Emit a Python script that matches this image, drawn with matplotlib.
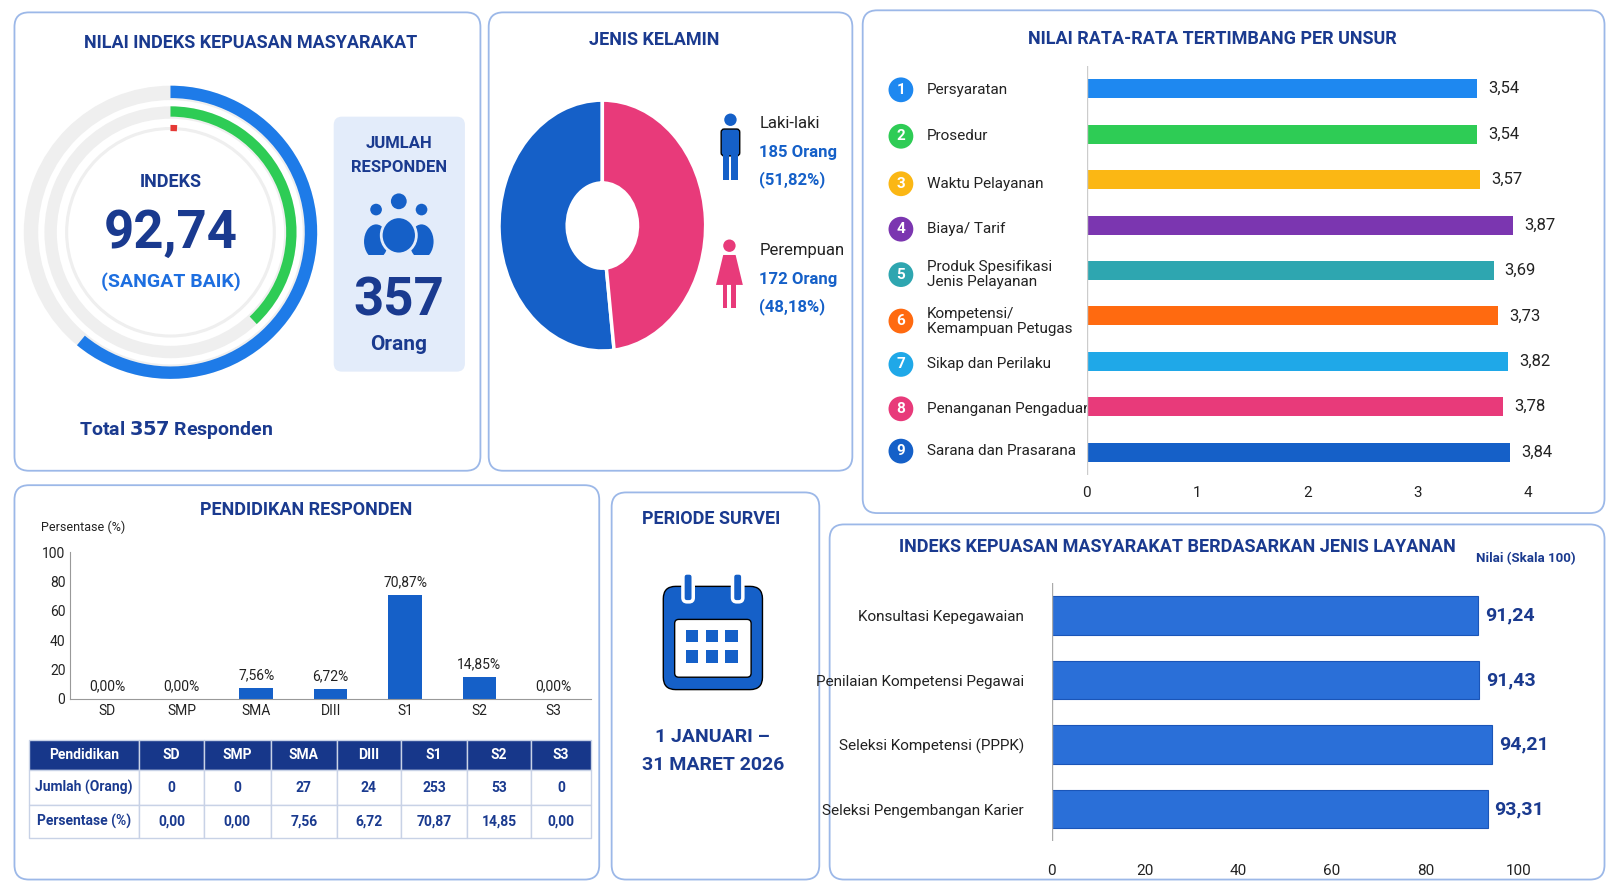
import matplotlib.pyplot as plt
from matplotlib.patches import FancyBboxPatch, Wedge, Circle, Rectangle, Polygon, Ellipse

plt.rcParams['font.family'] = ['Roboto', 'DejaVu Sans']

# ---- data ----
indeks = 92.74
responden = 357
gauge_fracs = [0.61, 0.38, 0.01]          # blue / green / red arcs, share of the circle
gender_labels = ["Laki-laki", "Perempuan"]
gender_counts = [185, 172]
gender_pct = [51.82, 48.18]

unsur_labels = ["Persyaratan", "Prosedur", "Waktu Pelayanan", "Biaya/ Tarif",
                "Produk Spesifikasi\nJenis Pelayanan", "Kompetensi/\nKemampuan Petugas",
                "Sikap dan Perilaku", "Penanganan Pengaduan", "Sarana dan Prasarana"]
unsur_values = [3.54, 3.54, 3.57, 3.87, 3.69, 3.73, 3.82, 3.78, 3.84]
unsur_colors = ["#1e88f0", "#2ecc55", "#fbb714", "#7b36b0", "#2ea6b0",
                "#ff6a10", "#1fa8e8", "#e83a7a", "#1560c8"]

pend_labels = ["SD", "SMP", "SMA", "DIII", "S1", "S2", "S3"]
pend_counts = [0, 0, 27, 24, 253, 53, 0]
pend_pct = [0.00, 0.00, 7.56, 6.72, 70.87, 14.85, 0.00]

layanan_labels = ["Konsultasi Kepegawaian", "Penilaian Kompetensi Pegawai",
                  "Seleksi Kompetensi (PPPK)", "Seleksi Pengembangan Karier"]
layanan_values = [91.24, 91.43, 94.21, 93.31]

NAVY = "#1a3a8f"
BLUE = "#1560c8"
W, H = 1568, 866


def fmt(v, d=2):
    return f"{v:.{d}f}".replace(".", ",")


def add_ax(x0, y0, x1, y1):
    return fig.add_axes([x0 / W, 1 - y1 / H, (x1 - x0) / W, (y1 - y0) / H])


fig = plt.figure(figsize=(16.2, 8.94), dpi=100)
bg = fig.add_axes([0, 0, 1, 1])
bg.set_xlim(0, W)
bg.set_ylim(H, 0)
bg.axis("off")

for x0, y0, x1, y1 in [(14, 12, 465, 456), (473, 12, 825, 456), (835, 10, 1553, 497),
                       (14, 470, 580, 852), (592, 477, 793, 852), (803, 508, 1553, 852)]:
    bg.add_patch(FancyBboxPatch((x0, y0), x1 - x0, y1 - y0, boxstyle="round,pad=0,rounding_size=14",
                                fc="white", ec="#9cb8e8", lw=1.3))


def t(x, y, s, size=12, color=NAVY, weight="normal", ha="center", va="center", **kw):
    bg.text(x, y, s, fontsize=size, color=color, fontweight=weight, ha=ha, va=va, **kw)


# ---- panel 1: gauge ----
t(243, 42, "NILAI INDEKS KEPUASAN MASYARAKAT", 13, weight="bold")
cx, cy = 165, 225
for r, w in [(142, 14), (122, 12), (102, 3)]:
    bg.add_patch(Wedge((cx, cy), r, 0, 360, width=w, fc="#efefef", ec="none"))
bg.add_patch(Wedge((cx, cy), 142, -90, -90 + 360 * gauge_fracs[0], width=12, fc="#1e7be8", ec="none"))
bg.add_patch(Wedge((cx, cy), 122, -90, -90 + 360 * gauge_fracs[1], width=10, fc="#2ecc55", ec="none"))
bg.add_patch(Wedge((cx, cy), 104, -90, -90 + 360 * gauge_fracs[2], width=6, fc="#e53935", ec="none"))
t(cx, 176, "INDEKS", 13, weight="bold")
t(cx, 226, fmt(indeks), 38, weight="bold")
t(cx, 273, "(SANGAT BAIK)", 14, color="#1e6fe0", weight="bold")
t(170, 417, f"Total $\\bf{{{responden}}}$ Responden", 14, weight="bold")

bg.add_patch(FancyBboxPatch((323, 113), 127, 247, boxstyle="round,pad=0,rounding_size=8",
                            fc="#e3ecfa", ec="none"))
t(386, 139, "JUMLAH", 12, weight="bold")
t(386, 162, "RESPONDEN", 12, weight="bold")
for hx, hy, r, bw in [(364, 203, 7, 13), (408, 203, 7, 13), (386, 195, 9, 17)]:
    bg.add_patch(Ellipse((hx, hy + r + 24), 2 * bw, 36, fc=BLUE, ec="#e3ecfa", lw=2))
    bg.add_patch(Circle((hx, hy), r, fc=BLUE, ec="#e3ecfa", lw=2))
bg.add_patch(Rectangle((345, 247), 85, 20, fc="#e3ecfa", ec="none"))
t(386, 292, str(responden), 38, weight="bold")
t(386, 334, "Orang", 15, weight="bold")

# ---- panel 2: gender donut ----
t(633, 39, "JENIS KELAMIN", 13, weight="bold")
axp = add_ax(483, 97, 683, 340)
axp.pie(gender_pct, colors=[BLUE, "#e83a7a"], startangle=90, counterclock=True,
        wedgeprops=dict(width=0.66, edgecolor="white", linewidth=2.5))
axp.set_aspect("auto")
axp.set_xlim(-1, 1)
axp.set_ylim(-1, 1)
t(515, 218, fmt(gender_pct[0]) + "%", 13, color="white", weight="bold")
t(649, 218, fmt(gender_pct[1]) + "%", 13, color="white", weight="bold")
# male icon
bg.add_patch(Circle((707, 116), 6, fc=BLUE))
bg.add_patch(FancyBboxPatch((698, 125), 18, 26, boxstyle="round,pad=0,rounding_size=3", fc=BLUE))
bg.add_patch(Rectangle((700, 148), 6, 26, fc=BLUE))
bg.add_patch(Rectangle((708, 148), 6, 26, fc=BLUE))
# female icon
bg.add_patch(Circle((706, 238), 6, fc="#e83a7a"))
bg.add_patch(Polygon([(700, 247), (712, 247), (719, 276), (693, 276)], fc="#e83a7a"))
bg.add_patch(Rectangle((700, 274), 4, 24, fc="#e83a7a"))
bg.add_patch(Rectangle((708, 274), 4, 24, fc="#e83a7a"))
for y, lab, n, p in [(120, gender_labels[0], gender_counts[0], gender_pct[0]),
                     (243, gender_labels[1], gender_counts[1], gender_pct[1])]:
    t(735, y, lab, 12, color="#222222", ha="left")
    t(735, y + 28, f"{n} Orang", 12, color=BLUE, weight="bold", ha="left")
    t(735, y + 54, f"({fmt(p)}%)", 12, color=BLUE, weight="bold", ha="left")

# ---- panel 3: unsur ----
t(1173, 38, "NILAI RATA-RATA TERTIMBANG PER UNSUR", 13, weight="bold")
axu = add_ax(1052, 64, 1500, 460)
ys = list(range(len(unsur_values)))
axu.barh(ys, unsur_values, height=0.42, color=unsur_colors)
axu.set_ylim(len(ys) - 0.5, -0.5)
axu.set_xlim(0, 4.2)
axu.set_xticks([0, 1, 2, 3, 4])
axu.tick_params(axis="x", length=0, labelsize=11, labelcolor="#222222", pad=8)
axu.set_yticks([])
for s in axu.spines.values():
    s.set_visible(False)
axu.axvline(0, color="#cccccc", lw=1)
for i, v in enumerate(unsur_values):
    axu.text(v + 0.1, i, fmt(v), va="center", fontsize=12, color="#222222")
row_y = [87, 132, 178, 222, 266, 311, 353, 396, 437]
for i, y in enumerate(row_y):
    bg.add_patch(Circle((872, y), 12, fc=unsur_colors[i]))
    t(872, y, str(i + 1), 11, color="white", weight="bold")
    t(897, y, unsur_labels[i], 11, color="#222222", ha="left", linespacing=1.1)

# ---- panel 4: pendidikan ----
t(296, 494, "PENDIDIKAN RESPONDEN", 13, weight="bold")
t(40, 511, "Persentase (%)", 9, color="#222222", ha="left")
axb = add_ax(68, 535, 572, 677)
xs = list(range(len(pend_pct)))
axb.bar(xs, pend_pct, width=0.45, color=BLUE)
axb.set_ylim(0, 100)
axb.set_xlim(-0.5, len(xs) - 0.5)
axb.set_xticks(xs, pend_labels)
axb.set_yticks([0, 20, 40, 60, 80, 100])
axb.tick_params(length=0, labelsize=10, labelcolor="#222222")
for s in ["top", "right"]:
    axb.spines[s].set_visible(False)
axb.spines["left"].set_color("#999999")
axb.spines["bottom"].set_color("#999999")
for i, v in enumerate(pend_pct):
    axb.text(i, v + 4, fmt(v) + "%", ha="center", va="bottom", fontsize=10, color="#222222")

col_x = [28, 135, 197, 262, 326, 388, 452, 514, 572]
row_e = [717, 746, 780, 812]
rows = [["Pendidikan"] + pend_labels,
        ["Jumlah (Orang)"] + [str(c) for c in pend_counts],
        ["Persentase (%)"] + [fmt(p) for p in pend_pct]]
for r in range(3):
    for c in range(len(col_x) - 1):
        hdr = r == 0
        bg.add_patch(Rectangle((col_x[c], row_e[r]), col_x[c + 1] - col_x[c], row_e[r + 1] - row_e[r],
                               fc="#17378a" if hdr else "white", ec="#c8d2e6", lw=1))
        t((col_x[c] + col_x[c + 1]) / 2, (row_e[r] + row_e[r + 1]) / 2, rows[r][c], 10,
          color="white" if hdr else NAVY, weight="bold")

# ---- panel 5: periode ----
t(688, 503, "PERIODE SURVEI", 13, weight="bold")
bg.add_patch(FancyBboxPatch((642, 568), 96, 100, boxstyle="round,pad=0,rounding_size=12", fc=BLUE))
bg.add_patch(FancyBboxPatch((653, 600), 74, 56, boxstyle="round,pad=0,rounding_size=4", fc="white"))
for rx in (666, 714):
    bg.add_patch(FancyBboxPatch((rx - 5, 555), 10, 28, boxstyle="round,pad=0,rounding_size=4",
                                fc=BLUE, ec="white", lw=2.5))
for r in range(2):
    for c in range(3):
        bg.add_patch(Rectangle((664 + c * 19, 610 + r * 20), 12, 12, fc=BLUE))
t(690, 714, "1 JANUARI –", 14, weight="bold")
t(690, 741, "31 MARET 2026", 14, weight="bold")

# ---- panel 6: layanan ----
t(1140, 530, "INDEKS KEPUASAN MASYARAKAT BERDASARKAN JENIS LAYANAN", 13, weight="bold")
t(1477, 541, "Nilai (Skala 100)", 9.5, weight="bold")
axl = add_ax(1018, 565, 1470, 815)
yl = list(range(len(layanan_values)))
axl.barh(yl, layanan_values, height=0.6, color="#2a6fd8", edgecolor="#1a55b8", lw=0.8)
axl.set_ylim(len(yl) - 0.5, -0.5)
axl.set_xlim(0, 100)
axl.set_xticks([0, 20, 40, 60, 80, 100])
axl.set_yticks(yl, layanan_labels)
axl.tick_params(length=0, labelsize=11, labelcolor="#222222")
axl.tick_params(axis="y", pad=20)
axl.tick_params(axis="x", pad=16)
for s in axl.spines.values():
    s.set_visible(False)
axl.axvline(0, color="#aaaaaa", lw=1)
for i, v in enumerate(layanan_values):
    axl.text(v + 1.5, i, fmt(v), va="center", fontsize=14, color=NAVY, fontweight="bold")

fig.savefig("out.png", dpi=100)
